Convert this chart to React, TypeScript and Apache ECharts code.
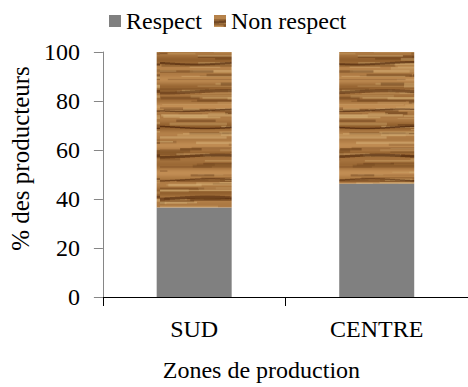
import React, { useEffect, useRef } from "react";
import * as echarts from "echarts";

const categories = ["SUD", "CENTRE"];
const respect = [36.5, 46.2];
const nonRespect = [63.5, 53.8];
const seriesNames = ["Respect", "Non respect"];
const yAxisTitle = "% des producteurs";
const xAxisTitle = "Zones de production";

function makeWood(): HTMLCanvasElement {
  const w = 160;
  const h = 260;
  const c = document.createElement("canvas");
  c.width = w;
  c.height = h;
  const ctx = c.getContext("2d")!;
  let s = 424242;
  const rnd = () => {
    s = (s * 16807) % 2147483647;
    return s / 2147483647;
  };
  for (let y = 0; y < h; y++) {
    const t = 0.5 + 0.3 * Math.sin(y / 5.3) + 0.2 * Math.sin(y / 2.1 + 1.3);
    const r = Math.round(145 + 50 * t);
    const g = Math.round(95 + 48 * t);
    const b = Math.round(45 + 40 * t);
    ctx.fillStyle = `rgb(${r},${g},${b})`;
    ctx.fillRect(0, y, w, 1);
  }
  for (let i = 0; i < 320; i++) {
    const x = rnd() * w - 30;
    const y = rnd() * h;
    const len = 15 + rnd() * 70;
    const t = rnd();
    const a = 0.2 + rnd() * 0.35;
    if (t < 0.45) ctx.fillStyle = `rgba(100,58,22,${a})`;
    else ctx.fillStyle = `rgba(215,178,120,${a})`;
    ctx.fillRect(x, y, len, 1 + rnd() * 2);
  }
  let y = 6;
  while (y < h - 4) {
    const a = 0.45 + rnd() * 0.4;
    ctx.fillStyle = `rgba(80,40,12,${a})`;
    const thick = 1.2 + rnd() * 1.8;
    const seg0 = rnd() * w;
    for (let x = 0; x < w; x += 5) {
      const wob = Math.sin(x / 19 + seg0) * 1.2;
      ctx.fillRect(x, y + wob, 5, thick);
    }
    y += 12 + rnd() * 18;
  }
  return c;
}

const FONT = "Liberation Serif";

export default function App() {
  const ref = useRef<HTMLDivElement>(null);
  useEffect(() => {
    if (!ref.current) return;
    const chart = echarts.init(ref.current, undefined, { renderer: "svg" });
    const wood = makeWood();
    chart.setOption({
      animation: false,
      textStyle: { fontFamily: FONT },
      legend: {
        data: seriesNames,
        left: 104,
        top: 4,
        itemWidth: 12,
        itemHeight: 12,
        itemGap: 12,
        icon: "rect",
        textStyle: { fontSize: 24, fontFamily: FONT, color: "#000" },
      },
      grid: { left: 101, right: -11, top: 52, bottom: 84 },
      xAxis: {
        type: "category",
        data: categories,
        name: xAxisTitle,
        nameLocation: "middle",
        nameGap: 61,
        nameTextStyle: { fontSize: 24, fontFamily: FONT, color: "#000", padding: [0, 48, 0, 0] },
        axisLine: { lineStyle: { color: "#000", width: 1 } },
        axisTick: { show: true, length: 9, lineStyle: { color: "#000" } },
        axisLabel: { fontSize: 24, fontFamily: FONT, color: "#000", margin: 20 },
      },
      yAxis: {
        type: "value",
        min: 0,
        max: 100,
        interval: 20,
        name: yAxisTitle,
        nameLocation: "middle",
        nameGap: 67,
        nameTextStyle: { fontSize: 25, fontFamily: FONT, color: "#000", padding: [0, 0, 0, 32] },
        axisLine: { show: true, lineStyle: { color: "#868686", width: 1 } },
        axisTick: { show: true, length: 9, lineStyle: { color: "#868686" } },
        splitLine: { show: false },
        axisLabel: { fontSize: 24, fontFamily: FONT, color: "#000", margin: 23 },
      },
      series: [
        {
          name: seriesNames[0],
          type: "bar",
          stack: "total",
          data: respect,
          barWidth: 75,
          itemStyle: { color: "#808080" },
        },
        {
          name: seriesNames[1],
          type: "bar",
          stack: "total",
          data: nonRespect,
          barWidth: 75,
          itemStyle: { color: { image: wood, repeat: "repeat" } },
        },
      ],
    });
    return () => chart.dispose();
  }, []);
  return (
    <div
      ref={ref}
      style={{ position: "absolute", left: 0, top: 0, width: 468, height: 387 }}
    />
  );
}
